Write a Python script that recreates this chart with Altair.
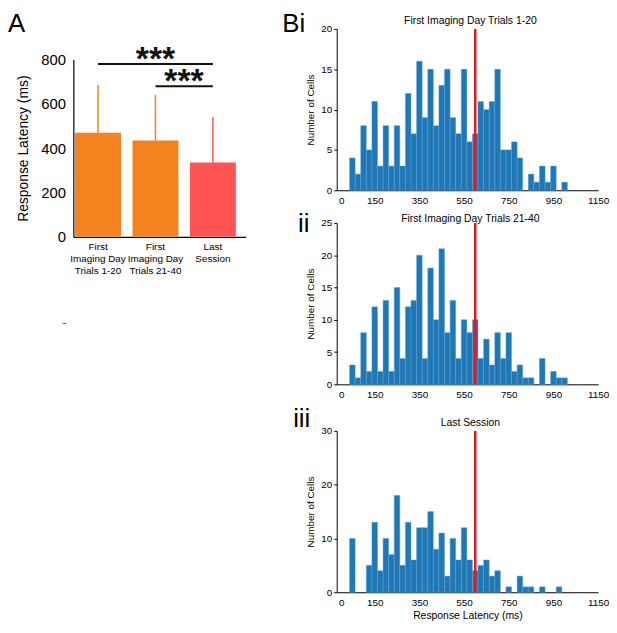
import altair as alt
import pandas as pd

FONT = "Liberation Sans"

# ---------------- Panel A data ----------------
groups = ["First|Imaging Day|Trials 1-20", "First|Imaging Day|Trials 21-40", "Last|Session"]
mean_latency = [470, 435, 335]
upper_sd = [685, 640, 540]
bar_colors = ["#f6821f", "#f6821f", "#ff5454"]

sig_from = ["First|Imaging Day|Trials 1-20", "First|Imaging Day|Trials 21-40"]
sig_to = ["Last|Session", "Last|Session"]
sig_level = [780, 680]
y_ticks_a = [0, 100, 200, 300, 400, 500, 600, 700, 800]
y_title_a = "Response Latency (ms)"

# ---------------- Panel B data ----------------
bin_centers = [50, 75, 100, 125, 150, 175, 200, 225, 250, 275,
               300, 325, 350, 375, 400, 425, 450, 475, 500, 525,
               550, 575, 600, 625, 650, 675, 700, 725, 750, 775,
               800, 825, 850, 875, 900, 925, 950, 975, 1000]
counts_b1 = [4, 2, 8, 5, 11, 3, 8, 3, 8, 3,
             12, 7, 16, 9, 15, 8, 13, 15, 9, 7,
             15, 6, 7, 11, 10, 11, 15, 5, 5, 6,
             4, 0, 2, 1, 3, 1, 3, 0, 1]
counts_b2 = [3, 1, 8, 2, 12, 2, 13, 2, 15, 4,
             12, 13, 20, 4, 18, 10, 21, 8, 13, 4,
             10, 8, 10, 4, 7, 3, 8, 4, 8, 2,
             3, 1, 1, 0, 4, 0, 2, 1, 1]
counts_b3 = [10, 0, 0, 5, 13, 4, 10, 7, 18, 5,
             13, 6, 12, 12, 15, 8, 11, 3, 10, 6,
             12, 6, 4, 5, 6, 3, 4, 0, 1, 0,
             3, 1, 1, 0, 1, 0, 0, 1, 0]
x_ticks_b = [0, 150, 350, 550, 750, 950, 1150]
threshold_ms = [600]
bin_width = 25

# ---------------- Panel A ----------------
cat_scale = alt.Scale(domain=groups, paddingInner=0.2, paddingOuter=0.1, align=0.15)
y_scale_a = alt.Scale(domain=[0, 800], nice=False)

dfA = pd.DataFrame({"group": groups, "mean": mean_latency, "upper": upper_sd, "color": bar_colors})

x_axis_a = alt.Axis(labelAngle=0, labelExpr="split(datum.label, '|')",
                    labelFontSize=10, labelLineHeight=12, ticks=False, labelPadding=5,
                    labelBaseline="top", domainWidth=1.2)
y_axis_a = alt.Axis(values=y_ticks_a, titleFontSize=14, labelOverlap=False,
                    labelFontSize=15, ticks=False, labelPadding=8, titlePadding=10,
                    domainWidth=1.2)

barsA = alt.Chart(dfA).mark_bar().encode(
    x=alt.X("group:N", scale=cat_scale, sort=groups, axis=x_axis_a, title=None),
    y=alt.Y("mean:Q", scale=y_scale_a, axis=y_axis_a, title=y_title_a),
    color=alt.Color("color:N", scale=None),
)
errA = alt.Chart(dfA).mark_rule(strokeWidth=1.5).encode(
    x=alt.X("group:N", scale=cat_scale, sort=groups, title=None),
    y=alt.Y("mean:Q", scale=y_scale_a, title=y_title_a),
    y2="upper:Q",
    color=alt.Color("color:N", scale=None),
)
dfS = pd.DataFrame({"from": sig_from, "to": sig_to, "level": sig_level})
sigA = alt.Chart(dfS).mark_rule(strokeWidth=2, color="#111").encode(
    x=alt.X("from:N", scale=cat_scale, sort=groups, title=None),
    x2="to:N",
    y=alt.Y("level:Q", scale=y_scale_a, title=y_title_a),
)
dfS1 = pd.DataFrame({"mid": [groups[1]], "level": [sig_level[0]], "t": ["***"]})
dfS2 = pd.DataFrame({"mid": [groups[2]], "level": [sig_level[1]], "t": ["***"]})
star1 = alt.Chart(dfS1).mark_text(fontSize=34, fontWeight="bold", font=FONT,
                                  baseline="alphabetic", dy=6, color="#111").encode(
    x=alt.X("mid:N", scale=cat_scale, sort=groups, title=None),
    y=alt.Y("level:Q", scale=y_scale_a, title=y_title_a),
    text="t:N",
)
star2 = alt.Chart(dfS2).mark_text(fontSize=34, fontWeight="bold", font=FONT,
                                  baseline="alphabetic", dy=6, dx=-6, color="#111").encode(
    x=alt.X("mid:N", scale=cat_scale, sort=groups, title=None, bandPosition=0),
    y=alt.Y("level:Q", scale=y_scale_a, title=y_title_a),
    text="t:N",
)
dash = alt.Chart(pd.DataFrame({"t": ["-"]})).mark_text(fontSize=11, font=FONT, color="#333").encode(
    text="t:N", x=alt.value(-9), y=alt.value(266)
)

panelA = alt.layer(barsA, errA, sigA, star1, star2, dash).properties(width=174, height=179)

tagA = alt.Chart(pd.DataFrame({"t": ["A"]})).mark_text(
    align="left", baseline="alphabetic", fontSize=26, font=FONT, color="#000").encode(
    text="t:N", x=alt.value(-66), y=alt.value(3)).properties(width=174, height=10)

columnA = alt.vconcat(tagA, panelA, spacing=4)


# ---------------- Panel B ----------------
def histogram(counts, title, title_y, tag, tag_x, tag_y, ymax, yvals, xtitle):
    df = pd.DataFrame({"center": bin_centers, "count": counts})
    df = df[df["count"] > 0]
    bars = alt.Chart(df).transform_calculate(
        lo=f"datum.center - {bin_width / 2}", hi=f"datum.center + {bin_width / 2}"
    ).mark_bar(color="#1f77b4", stroke="#5aa2da", strokeWidth=0.5).encode(
        x=alt.X("lo:Q", scale=alt.Scale(domain=[-20, 1150], nice=False, zero=False),
                axis=alt.Axis(values=x_ticks_b, format="d", ticks=False, labelPadding=5,
                              labelFontSize=10, titleFontSize=10.5, titlePadding=4,
                              labelFlush=False),
                title=xtitle),
        x2="hi:Q",
        y=alt.Y("count:Q", scale=alt.Scale(domain=[0, ymax], nice=False),
                axis=alt.Axis(values=yvals, tickSize=3, labelPadding=2, labelFontSize=10,
                              titleFontSize=10, titlePadding=5),
                title="Number of Cells"),
        y2=alt.datum(0),
    )
    red = alt.Chart(pd.DataFrame({"ms": threshold_ms})).mark_rule(
        color="#e8161d", strokeWidth=2.5).encode(x=alt.X("ms:Q", title=xtitle))
    label = alt.Chart(pd.DataFrame({"t": [tag]})).mark_text(
        align="left", baseline="alphabetic", fontSize=26, font=FONT, color="#000").encode(
        text="t:N", x=alt.value(tag_x), y=alt.value(tag_y))
    heading = alt.Chart(pd.DataFrame({"t": [title]})).mark_text(
        align="center", baseline="middle", fontSize=10.5, font=FONT, color="#000").encode(
        text="t:N", x=alt.value(135), y=alt.value(title_y))
    return alt.layer(bars, red, label, heading).properties(width=264, height=163)


b1 = histogram(counts_b1, "First Imaging Day Trials 1-20", -8, "Bi", -55, 3, 20,
               [0, 5, 10, 15, 20], None)
b2 = histogram(counts_b2, "First Imaging Day Trials 21-40", -4, "ii", -39, 9, 25,
               [0, 5, 10, 15, 20, 25], None)
b3 = histogram(counts_b3, "Last Session", -8, "iii", -44, -4, 30,
               [0, 10, 20, 30], "Response Latency (ms)")

panelB = alt.vconcat(alt.vconcat(b1, b2, spacing=6), b3, spacing=7)

chart = alt.concat(columnA, panelB, columns=2, spacing=37).properties(padding=0).configure(
    font=FONT
).configure_view(stroke=None).configure_axis(
    domainColor="#000", labelColor="#000", titleColor="#000", tickColor="#000",
    grid=False, titleFontWeight="normal", labelFont=FONT, titleFont=FONT,
)

chart.save("out.html", embed_options={"renderer": "svg", "actions": False})
